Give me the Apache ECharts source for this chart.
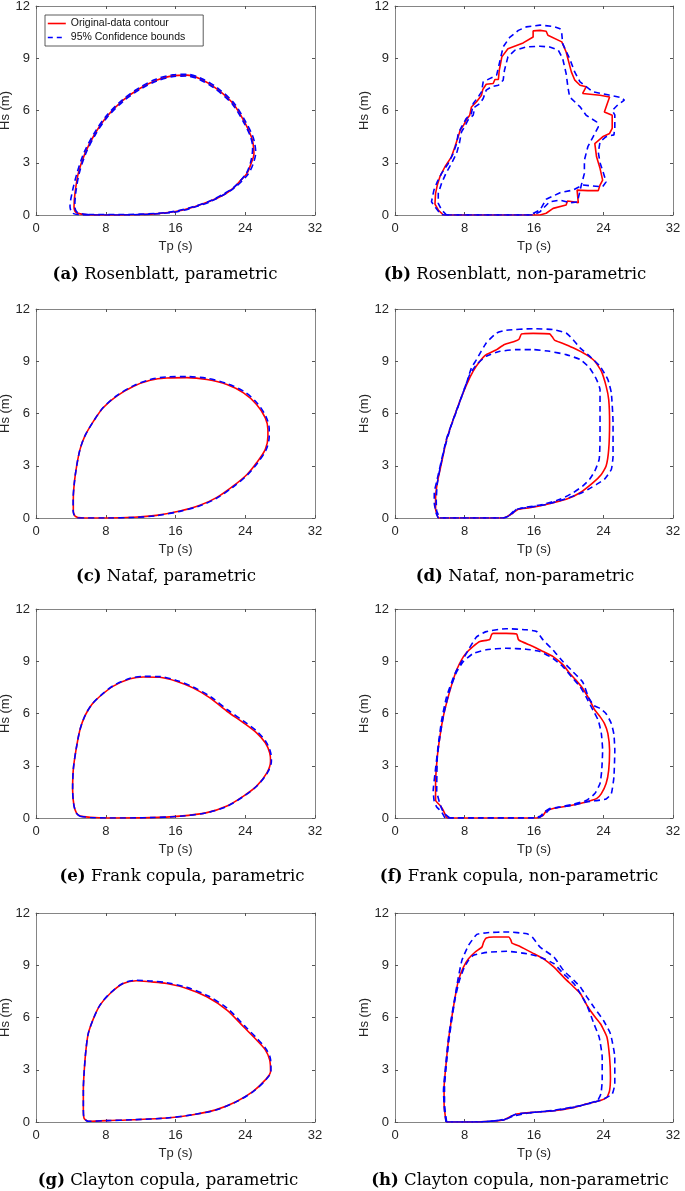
<!DOCTYPE html>
<html>
<head>
<meta charset="utf-8">
<script src="https://cdn.jsdelivr.net/npm/echarts/dist/echarts.min.js"></script>
<style>
html,body{margin:0;padding:0;background:#fff;}
#chart{width:685px;height:1191px;}
</style>
</head>
<body>
<div id="chart"></div>
<script>
// axis ticks
const tpTicks = [0, 8, 16, 24, 32];
const hsTicks = [0, 3, 6, 9, 12];

// (a) Rosenblatt, parametric  [Tp, Hs]
const aContour = [[5.8,0.02],[8,0],[10,0.01],[12,0.03],[14,0.08],[16,0.2],[18,0.45],[20,0.8],[21.5,1.15],[22.6,1.53],[23.5,2.0],[24.2,2.39],[24.7,3.0],[25.0,3.5],[24.9,4.1],[24.7,4.49],[24.0,5.26],[22.6,6.4],[20.7,7.26],[18.8,7.82],[17.3,8.03],[15.75,8.0],[13.8,7.74],[11.9,7.26],[10.0,6.59],[8.1,5.64],[6.77,4.68],[5.62,3.54],[4.85,2.39],[4.47,1.24],[4.36,0.48],[4.66,0.13],[5.8,0.02]];
const aUpper = [[5.5,0],[8,0],[12,0.02],[16,0.17],[18,0.42],[20,0.77],[22.6,1.5],[24.3,2.33],[24.95,3.0],[25.2,3.6],[25.05,4.2],[24.8,4.6],[24.1,5.3],[22.7,6.43],[20.8,7.3],[18.85,7.87],[17.3,8.08],[15.7,8.05],[13.75,7.8],[11.85,7.31],[9.95,6.63],[8.05,5.68],[6.7,4.72],[5.5,3.57],[4.7,2.4],[4.15,1.3],[3.9,0.5],[4.2,0.1],[5.5,0]];
const aLower = [[6,0.03],[10,0.03],[14,0.1],[16,0.22],[18,0.47],[20,0.82],[22.6,1.56],[24.15,2.42],[24.7,3.2],[24.85,3.9],[24.6,4.5],[23.9,5.25],[22.55,6.35],[20.65,7.21],[18.8,7.77],[17.3,7.98],[15.8,7.95],[13.85,7.7],[11.95,7.22],[10.05,6.55],[8.15,5.6],[6.85,4.65],[5.7,3.52],[4.95,2.38],[4.55,1.24],[4.45,0.48],[4.75,0.14],[6,0.03]];

// (b) Rosenblatt, non-parametric
const bContour = [[5.56,0],[10,0],[16.7,0],[17.4,0.1],[18.2,0.38],[19.7,0.57],[19.85,0.8],[20.5,0.76],[21.1,0.7],[20.96,1.43],[22.2,1.4],[23.4,1.4],[23.6,1.72],[23.9,2.0],[23.6,2.68],[23.2,3.34],[23.0,4.1],[23.9,4.49],[24.7,4.68],[25.0,4.97],[25.0,5.73],[24.1,5.92],[24.7,6.78],[23.6,6.88],[21.6,6.98],[22.0,7.36],[21.3,7.45],[20.7,7.74],[20.3,8.22],[19.7,9.36],[19.2,9.94],[17.6,10.32],[17.4,10.55],[16.7,10.6],[15.9,10.57],[15.9,10.22],[14.75,9.88],[13.0,9.55],[12.3,9.08],[12.0,8.31],[11.9,7.78],[11.5,7.78],[11.3,7.55],[10.5,7.51],[10.1,7.2],[9.96,6.88],[9.39,6.5],[8.8,6.2],[8.6,5.73],[8.2,5.45],[7.9,5.16],[7.5,4.87],[7.3,4.53],[6.9,3.92],[6.5,3.34],[5.75,2.77],[5.17,2.2],[4.87,1.72],[4.67,1.24],[4.6,0.63],[4.98,0.29],[5.56,0]];
const bUpper = [[5.56,0],[10,0],[15.5,0],[16.7,0.29],[17.4,0.9],[19.0,1.28],[20.5,1.43],[21.6,1.72],[23.9,1.62],[24.3,1.9],[24.0,2.4],[23.6,3.0],[23.4,3.6],[23.6,4.2],[24.3,4.5],[25.2,4.6],[25.3,5.0],[25.3,5.75],[25.0,6.0],[25.6,6.3],[26.4,6.6],[26.0,6.75],[24.5,6.9],[22.8,7.07],[21.3,7.64],[20.7,8.2],[20.1,8.98],[19.3,9.84],[19.2,10.4],[19.0,10.7],[18.2,10.83],[16.7,10.9],[15.1,10.8],[14.2,10.6],[13.2,10.2],[12.45,9.65],[12.1,8.9],[11.7,8.03],[10.9,7.83],[10.15,7.64],[9.96,7.07],[9.58,6.78],[9.0,6.4],[8.8,5.83],[8.2,5.54],[7.66,5.06],[7.28,4.68],[7.09,4.1],[6.7,3.54],[6.13,2.96],[5.36,2.39],[4.87,1.91],[4.48,1.43],[4.2,0.76],[4.6,0.48],[5.17,0.1],[5.56,0]];
const bLower = [[5.94,0],[10,0],[15.9,0],[16.7,0.19],[17.05,0.38],[17.8,0.76],[19.0,0.86],[20.1,0.7],[21.0,0.75],[21.45,1.72],[21.8,2.39],[21.8,3.15],[22.2,3.92],[22.8,4.49],[23.4,5.06],[23.2,5.35],[22.0,5.73],[21.3,6.21],[20.1,6.78],[19.9,7.36],[19.7,8.12],[19.3,8.98],[18.8,9.46],[17.8,9.65],[16.7,9.69],[15.1,9.65],[13.8,9.46],[13.0,9.08],[12.6,8.31],[12.45,7.74],[11.9,7.45],[11.1,7.36],[10.5,7.17],[10.15,6.69],[9.77,6.4],[9.2,6.21],[9.0,5.73],[8.4,5.45],[8.0,5.06],[7.66,4.78],[7.4,4.1],[7.09,3.54],[6.5,2.96],[5.86,2.39],[5.36,1.82],[4.98,1.24],[4.98,0.67],[5.36,0.29],[5.94,0]];

// (c) Nataf, parametric
const cContour = [[4.85,0.02],[5.4,0],[8.1,0],[11.2,0.04],[13.8,0.15],[16.5,0.4],[18.8,0.73],[20.7,1.17],[22.6,1.83],[24.2,2.5],[25.3,3.17],[26.3,3.94],[26.6,4.7],[26.6,5.08],[26.3,5.75],[25.3,6.52],[23.8,7.18],[21.9,7.66],[19.6,7.95],[17.3,8.06],[15.0,8.04],[13.1,7.91],[11.2,7.57],[9.25,7.0],[7.7,6.33],[6.6,5.56],[5.6,4.7],[5.05,3.94],[4.66,2.98],[4.4,2.03],[4.28,1.07],[4.28,0.4],[4.47,0.11],[4.85,0.02]];
const cBound = [[4.85,0],[5.4,0],[8.1,0],[11.2,0.03],[13.8,0.13],[16.5,0.38],[18.8,0.7],[20.7,1.13],[22.6,1.78],[24.2,2.45],[25.35,3.12],[26.4,3.92],[26.75,4.7],[26.75,5.1],[26.4,5.8],[25.4,6.58],[23.9,7.25],[21.9,7.72],[19.6,8.02],[17.3,8.12],[15.0,8.1],[13.1,7.95],[11.2,7.6],[9.25,7.02],[7.7,6.34],[6.6,5.56],[5.6,4.7],[5.05,3.94],[4.66,2.98],[4.4,2.03],[4.26,1.07],[4.26,0.4],[4.45,0.1],[4.85,0]];

// (d) Nataf, non-parametric
const dContour = [[4.98,0],[8,0],[12.45,0],[13.0,0.11],[13.6,0.3],[14.2,0.5],[15.5,0.59],[17.4,0.78],[19.7,1.07],[21.3,1.45],[22.8,2.03],[23.75,2.5],[24.3,2.98],[24.6,3.94],[24.7,5.47],[24.6,6.8],[24.3,7.57],[23.75,8.43],[23.0,9.0],[22.0,9.38],[20.5,9.77],[19.2,10.05],[18.4,10.2],[18.1,10.4],[17.8,10.57],[15.9,10.6],[14.56,10.57],[14.3,10.28],[13.8,10.15],[12.6,9.96],[11.7,9.67],[10.5,9.38],[9.77,9.0],[9.0,8.43],[8.24,7.66],[7.47,6.71],[6.7,5.66],[5.94,4.51],[5.36,3.17],[4.87,2.03],[4.67,1.07],[4.67,0.5],[4.87,0.15],[4.98,0]];
const dUpper = [[4.98,0],[4.75,0.25],[4.52,0.88],[4.52,1.45],[4.8,2.1],[5.3,3.2],[5.9,4.5],[6.7,5.66],[7.47,6.71],[8.2,7.7],[8.8,8.62],[9.39,9.1],[10.5,10.05],[11.7,10.62],[12.8,10.78],[15.9,10.87],[18.2,10.82],[19.7,10.62],[20.5,10.24],[21.3,9.77],[22.4,9.29],[23.6,8.71],[24.5,7.95],[24.9,7.18],[25.1,5.47],[25.1,3.55],[24.9,2.79],[24.1,2.22],[23.2,1.93],[22.2,1.64],[21.3,1.41],[19.7,1.11],[17.4,0.78],[15.1,0.59],[14.0,0.5],[13.4,0.21],[12.8,0.04],[12.45,0],[8,0],[4.98,0]];
const dLower = [[5.17,0],[8,0],[12.45,0],[13.0,0.08],[13.4,0.27],[13.8,0.46],[14.75,0.59],[17.05,0.78],[19.0,1.07],[20.5,1.45],[21.6,1.83],[22.4,2.22],[23.0,2.7],[23.5,3.36],[23.6,4.51],[23.6,6.42],[23.6,7.38],[23.2,7.95],[22.4,8.62],[21.3,9.1],[19.7,9.38],[17.8,9.57],[15.9,9.67],[14.0,9.67],[12.1,9.57],[10.5,9.29],[9.39,8.81],[8.6,8.24],[7.9,7.3],[7.2,6.3],[6.4,5.2],[5.7,4.0],[5.2,2.9],[4.85,1.9],[4.75,1.0],[4.8,0.4],[5.17,0]];

// (e) Frank copula, parametric
const eContour = [[5.05,0.11],[6.2,0.04],[8.1,0],[13.1,0.02],[16.5,0.11],[19.6,0.31],[21.9,0.69],[23.8,1.26],[25.3,1.83],[26.5,2.6],[26.9,3.27],[26.8,3.75],[26.3,4.32],[25.3,4.89],[23.8,5.47],[21.9,6.13],[19.95,6.9],[18.0,7.47],[16.1,7.85],[14.2,8.08],[12.3,8.1],[10.8,7.99],[8.87,7.57],[7.34,6.99],[6.4,6.52],[5.6,5.85],[5.05,5.08],[4.6,3.94],[4.28,2.79],[4.2,1.64],[4.36,0.69],[4.66,0.27],[5.05,0.11]];
const eBound = [[5.05,0.1],[6.2,0.03],[8.1,0],[13.1,0.02],[16.5,0.1],[19.6,0.3],[21.9,0.67],[23.8,1.24],[25.3,1.82],[26.55,2.6],[27.0,3.27],[26.9,3.78],[26.4,4.36],[25.4,4.95],[23.9,5.53],[22.0,6.2],[20.0,6.97],[18.0,7.53],[16.1,7.9],[14.2,8.12],[12.3,8.13],[10.8,8.02],[8.87,7.6],[7.34,7.0],[6.4,6.52],[5.6,5.85],[5.05,5.08],[4.6,3.94],[4.28,2.79],[4.2,1.64],[4.36,0.69],[4.66,0.27],[5.05,0.1]];

// (f) Frank copula, non-parametric
const fContour = [[5.94,0],[10,0],[16.3,0],[17.05,0.15],[17.4,0.4],[18.2,0.54],[19.7,0.67],[21.3,0.83],[22.4,0.98],[23.2,1.11],[23.75,1.4],[24.3,1.98],[24.6,2.75],[24.7,3.9],[24.5,4.86],[24.1,5.43],[23.6,5.82],[23.0,6.2],[22.4,6.78],[21.6,7.45],[20.8,7.93],[20.1,8.31],[19.35,8.79],[18.2,9.27],[17.05,9.56],[15.9,9.85],[14.56,10.13],[14.2,10.25],[14.0,10.56],[12.8,10.6],[11.3,10.6],[11.1,10.52],[10.9,10.25],[9.77,10.13],[9.0,9.85],[8.2,9.47],[7.66,9.08],[7.09,8.5],[6.7,7.93],[6.13,6.97],[5.56,5.82],[5.17,4.67],[4.87,3.51],[4.67,1.98],[4.67,1.02],[5.17,0.73],[5.56,0.44],[5.94,0]];
const fUpper = [[5.75,0],[5.36,0.35],[4.8,0.63],[4.5,1.0],[4.4,1.57],[4.6,2.53],[5.0,4.26],[5.36,5.6],[5.94,6.97],[6.9,8.29],[7.66,8.97],[8.43,9.64],[9.39,10.4],[10.5,10.7],[12.8,10.87],[15.1,10.81],[16.3,10.71],[17.05,10.22],[18.2,9.64],[19.35,8.97],[20.5,8.39],[21.6,7.81],[22.3,6.9],[22.9,6.45],[23.6,6.3],[24.3,5.99],[24.9,5.43],[25.2,4.8],[25.3,3.9],[25.2,2.34],[24.9,1.4],[24.3,1.09],[23.2,1.0],[22.0,0.92],[20.5,0.73],[19.0,0.63],[17.8,0.54],[17.2,0.35],[16.7,0.1],[15.9,0],[10,0],[5.75,0]];
const fLower = [[6.3,0],[5.6,0.3],[5.17,0.81],[4.8,1.57],[4.87,3.51],[5.17,4.67],[5.63,6.01],[6.3,7.35],[7.09,8.39],[7.85,8.97],[9.0,9.45],[10.5,9.66],[12.8,9.75],[15.1,9.69],[16.7,9.56],[18.2,9.16],[19.35,8.68],[20.5,8.0],[21.3,7.55],[22.0,6.95],[22.8,6.18],[23.4,5.6],[23.75,4.86],[23.9,3.9],[23.8,2.75],[23.6,1.98],[23.0,1.4],[22.0,1.0],[20.5,0.79],[19.0,0.63],[17.8,0.5],[17.4,0.29],[16.7,0.06],[16.3,0],[10,0],[6.3,0]];

// (g) Clayton copula, parametric
const gContour = [[5.73,0.1],[6.0,0.04],[8.1,0.08],[11.2,0.13],[15.0,0.23],[18.0,0.42],[20.7,0.71],[23.0,1.18],[24.9,1.76],[26.3,2.42],[26.9,2.9],[26.8,3.57],[26.3,4.14],[25.3,4.71],[23.8,5.47],[21.9,6.43],[19.6,7.19],[17.3,7.67],[15.0,7.95],[13.1,8.05],[11.5,8.11],[10.0,7.95],[8.5,7.38],[7.34,6.71],[6.6,5.95],[6.0,5.09],[5.73,4.14],[5.54,3.0],[5.43,1.85],[5.43,0.71],[5.5,0.23],[5.73,0.1]];
const gBound = [[5.73,0.1],[6.0,0.04],[8.1,0.08],[11.2,0.13],[15.0,0.23],[18.0,0.42],[20.7,0.7],[23.0,1.17],[24.9,1.74],[26.35,2.42],[26.95,2.9],[26.9,3.6],[26.4,4.18],[25.4,4.77],[23.9,5.53],[22.0,6.5],[19.7,7.25],[17.3,7.73],[15.0,8.0],[13.1,8.1],[11.5,8.14],[10.0,7.97],[8.5,7.4],[7.34,6.71],[6.6,5.95],[6.0,5.09],[5.73,4.14],[5.54,3.0],[5.43,1.85],[5.43,0.71],[5.5,0.23],[5.73,0.1]];

// (h) Clayton copula, non-parametric
const hContour = [[5.88,0],[5.75,0.5],[5.65,1.04],[5.65,1.99],[5.88,3.34],[6.15,4.68],[6.54,6.02],[6.92,7.17],[7.3,8.13],[7.88,8.89],[8.46,9.37],[9.23,9.76],[10.0,10.04],[10.2,10.33],[10.5,10.56],[11.35,10.62],[13.1,10.62],[13.35,10.43],[13.46,10.27],[14.4,10.08],[16.0,9.66],[17.1,9.37],[18.3,8.89],[19.4,8.32],[20.6,7.74],[21.35,7.36],[22.1,6.69],[22.9,6.11],[23.65,5.64],[24.4,4.87],[24.7,3.72],[24.8,2.57],[24.7,1.8],[24.4,1.42],[23.65,1.23],[22.1,1.04],[20.6,0.84],[18.3,0.65],[16.0,0.56],[14.0,0.46],[13.3,0.31],[12.5,0.12],[10.96,0.04],[9.0,0],[5.88,0]];
const hUpper = [[5.88,0],[5.7,0.6],[5.58,1.8],[5.85,3.34],[6.12,4.68],[6.5,6.02],[6.9,7.17],[7.25,8.2],[7.7,9.28],[8.46,10.14],[9.42,10.77],[10.6,10.87],[12.9,10.91],[15.2,10.81],[15.8,10.62],[16.7,10.04],[18.3,9.47],[19.4,8.7],[20.6,8.13],[21.35,7.74],[22.1,7.17],[22.9,6.59],[24.0,5.83],[24.8,5.06],[25.3,3.72],[25.3,2.19],[25.0,1.61],[24.0,1.32],[22.9,1.13],[21.35,0.94],[18.3,0.68],[15.2,0.5],[13.65,0.35],[12.9,0.19],[11.7,0.08],[9.8,0],[5.88,0]];
const hLower = [[5.95,0],[5.8,0.5],[5.7,1.04],[5.7,1.99],[5.92,3.34],[6.2,4.68],[6.58,6.02],[6.95,7.17],[7.4,8.1],[7.95,8.85],[8.46,9.28],[9.04,9.57],[10.6,9.74],[12.9,9.8],[15.2,9.66],[16.7,9.47],[18.3,9.09],[19.4,8.51],[20.6,7.94],[21.35,7.36],[22.1,6.69],[22.9,5.64],[23.5,4.87],[23.85,3.72],[23.85,2.38],[23.7,1.61],[23.3,1.23],[22.1,1.04],[20.6,0.84],[18.3,0.65],[16.0,0.56],[14.0,0.46],[13.3,0.31],[12.5,0.12],[10.96,0.04],[9.0,0],[5.95,0]];

const captionTags = ['(a)','(b)','(c)','(d)','(e)','(f)','(g)','(h)'];
const captionTexts = ['Rosenblatt, parametric','Rosenblatt, non-parametric','Nataf, parametric','Nataf, non-parametric','Frank copula, parametric','Frank copula, non-parametric','Clayton copula, parametric','Clayton copula, non-parametric'];

const panels = [
  {red: aContour, blue: [aUpper, aLower], smooth: 0.3},
  {red: bContour, blue: [bUpper, bLower], smooth: false},
  {red: cContour, blue: [cBound], smooth: 0.3},
  {red: dContour, blue: [dUpper, dLower], smooth: 0.15},
  {red: eContour, blue: [eBound], smooth: 0.3},
  {red: fContour, blue: [fUpper, fLower], smooth: 0.15},
  {red: gContour, blue: [gBound], smooth: 0.3},
  {red: hContour, blue: [hUpper, hLower], smooth: 0.15}
];

// layout
const colLeft = [36, 395];
const colWidth = [279, 278];
const rowTop = [6, 309, 609, 913];
const plotHeight = 209;
const capX = [165, 515, 166, 525, 182, 519, 168, 520];
const capY = [275, 275, 577, 577, 877, 877, 1181, 1181];

const RED = 'Original-data contour';
const BLUE = '95% Confidence bounds';
const boxColor = '#858585';
const labelColor = '#262626';
const sans = 'Liberation Sans, Arial, sans-serif';
const serif = 'DejaVu Serif, serif';

let grid = [], xAxis = [], yAxis = [], series = [], graphic = [];
panels.forEach((p, i) => {
  let col = i % 2, row = Math.floor(i / 2);
  grid.push({left: colLeft[col], top: rowTop[row], width: colWidth[col], height: plotHeight,
             containLabel: false, outerBoundsMode: 'none'});
  let tick = {show: true, inside: true, length: 3, lineStyle: {color: '#555', width: 1}};
  // bottom and left axes with labels
  xAxis.push({gridIndex: i, type: 'value', position: 'bottom', min: tpTicks[0], max: tpTicks[tpTicks.length-1], interval: 8,
    name: 'Tp (s)', nameLocation: 'middle', nameGap: 25,
    nameTextStyle: {fontSize: 13, color: labelColor, fontFamily: sans},
    axisLine: {show: true, lineStyle: {color: boxColor, width: 1}},
    axisTick: tick, splitLine: {show: false},
    axisLabel: {fontSize: 13, color: labelColor, fontFamily: sans, margin: 7}});
  yAxis.push({gridIndex: i, type: 'value', position: 'left', min: hsTicks[0], max: hsTicks[hsTicks.length-1], interval: 3,
    name: 'Hs (m)', nameLocation: 'middle', nameGap: 21,
    nameTextStyle: {fontSize: 13, color: labelColor, fontFamily: sans},
    axisLine: {show: true, lineStyle: {color: boxColor, width: 1}},
    axisTick: tick, splitLine: {show: false},
    axisLabel: {fontSize: 13, color: labelColor, fontFamily: sans, margin: 6}});
});
// top and right box sides with ticks
panels.forEach((p, i) => {
  let tick = {show: true, inside: true, length: 3, lineStyle: {color: '#555', width: 1}};
  xAxis.push({gridIndex: i, type: 'value', position: 'top', min: 0, max: 32, interval: 8,
    axisLine: {show: true, onZero: false, lineStyle: {color: boxColor, width: 1}},
    axisTick: tick, axisLabel: {show: false}, splitLine: {show: false}});
  yAxis.push({gridIndex: i, type: 'value', position: 'right', min: 0, max: 12, interval: 3,
    axisLine: {show: true, onZero: false, lineStyle: {color: boxColor, width: 1}},
    axisTick: tick, axisLabel: {show: false}, splitLine: {show: false}});
});

panels.forEach((p, i) => {
  series.push({name: RED, type: 'line', xAxisIndex: i, yAxisIndex: i, data: p.red,
    symbol: 'none', smooth: p.smooth, color: '#ff0000',
    lineStyle: {color: '#ff0000', width: 1.6, type: 'solid'}});
  p.blue.forEach(b => {
    series.push({name: BLUE, type: 'line', xAxisIndex: i, yAxisIndex: i, data: b,
      symbol: 'none', smooth: p.smooth, color: '#0000ff',
      lineStyle: {color: '#0000ff', width: 1.6, type: [6, 4]}});
  });
  graphic.push({type: 'text', x: capX[i], y: capY[i],
    style: {text: '{b|' + captionTags[i] + '} ' + captionTexts[i], align: 'center', verticalAlign: 'middle',
      fontSize: 16.5, fontFamily: serif, fill: '#000',
      rich: {b: {fontWeight: 'bold', fontSize: 16.5, fontFamily: serif}}}});
});

let myChart = echarts.init(document.getElementById('chart'), null, {renderer: 'canvas'});
let option = {
  animation: false,
  backgroundColor: '#fff',
  legend: {
    data: [
      {name: RED, lineStyle: {color: '#ff0000', width: 1.6, type: 'solid'}},
      {name: BLUE, lineStyle: {color: '#0000ff', width: 1.6, type: [5, 4]}}
    ],
    orient: 'vertical', left: 45, top: 15,
    itemWidth: 18, itemHeight: 12, itemGap: 3,
    padding: [3, 18, 3, 2],
    itemStyle: {opacity: 0},
    backgroundColor: '#fff', borderColor: '#333', borderWidth: 0.8,
    textStyle: {fontSize: 10.5, color: '#111', fontFamily: sans},
    selectedMode: false
  },
  grid: grid,
  xAxis: xAxis,
  yAxis: yAxis,
  series: series,
  graphic: graphic
};
myChart.setOption(option);
</script>
</body>
</html>
